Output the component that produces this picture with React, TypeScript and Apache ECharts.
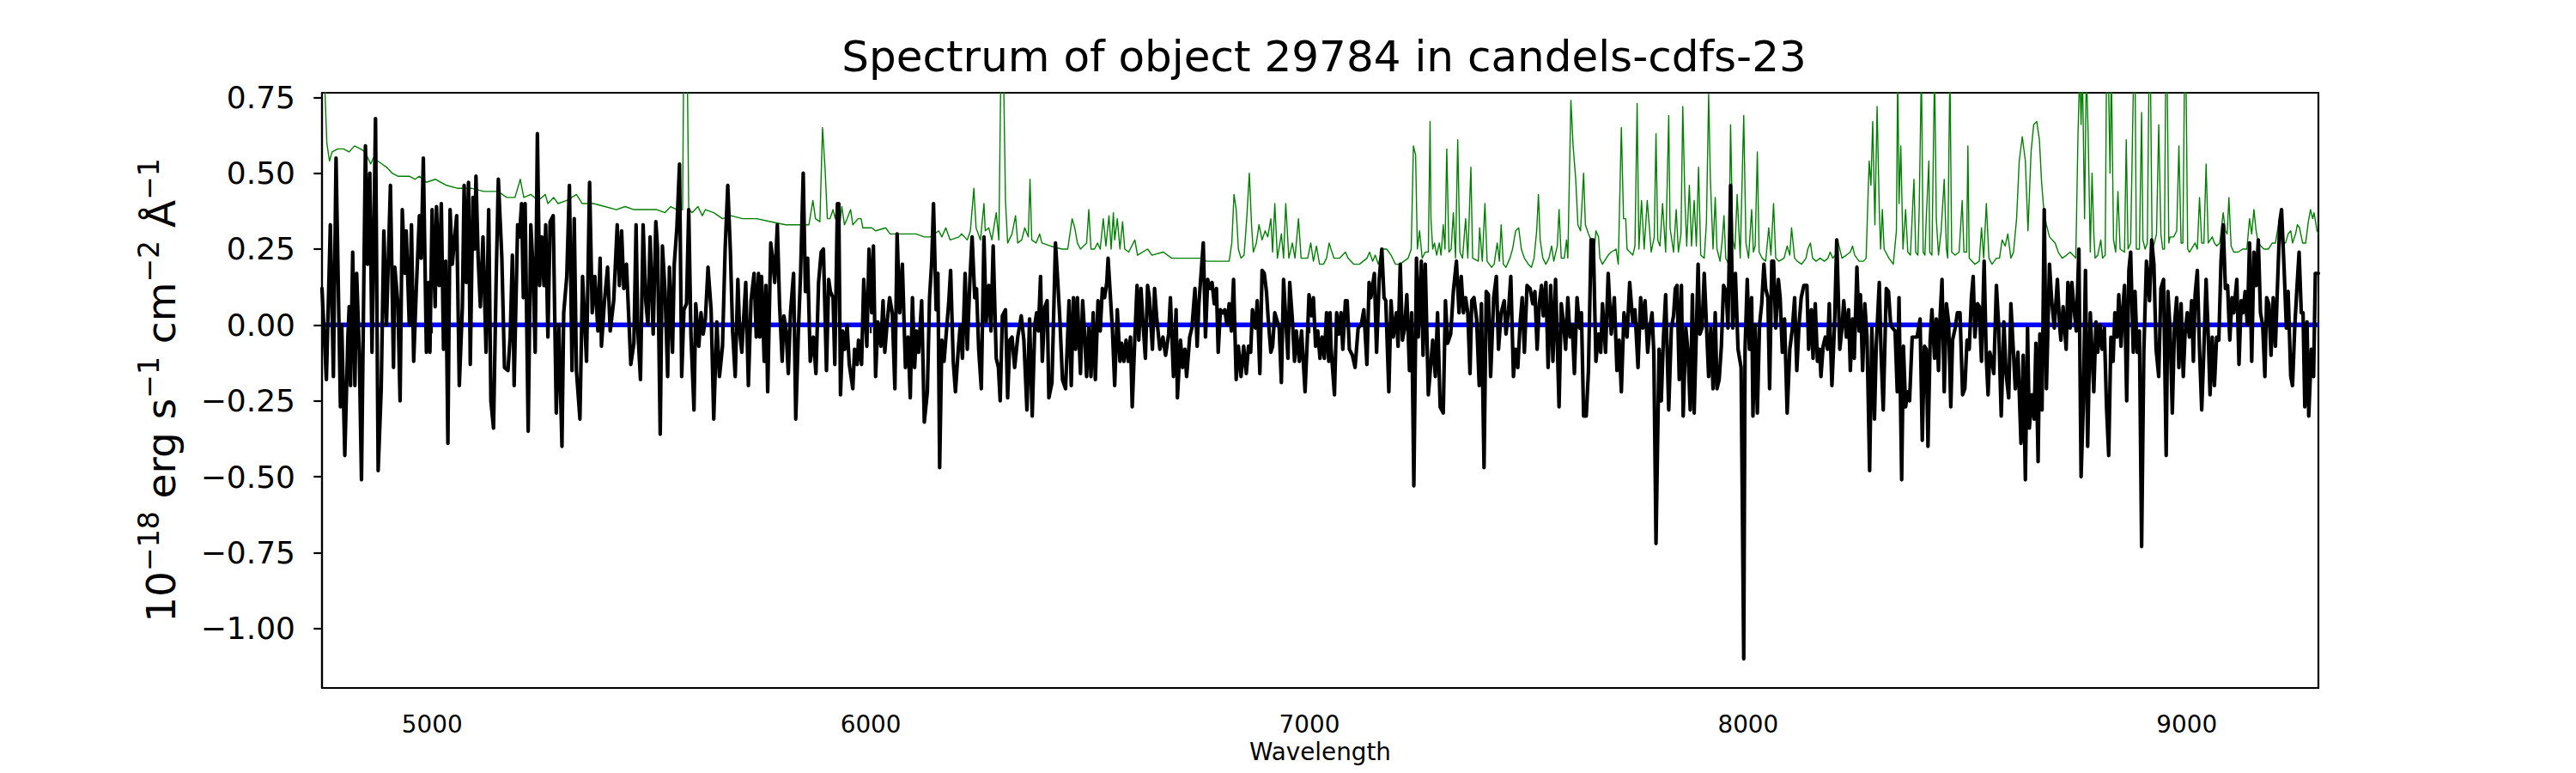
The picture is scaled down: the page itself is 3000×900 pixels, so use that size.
import React, { useEffect, useRef } from "react";
import * as echarts from "echarts";

// ---------- Data ----------
const TITLE = "Spectrum of object 29784 in candels-cdfs-23";
const X_NAME = "Wavelength";
const X_RANGE = [4749, 9300];
const Y_RANGE = [-1.196, 0.765];
const X_TICKS = [5000, 6000, 7000, 8000, 9000];
const Y_TICKS = [-1.0, -0.75, -0.5, -0.25, 0.0, 0.25, 0.5, 0.75];

// observed flux [wavelength (Å), flux (1e-18 erg/s/cm2/Å)]
const FLUX_SPECTRUM: [number, number][] = [
  [4749,0.12],[4759,-0.18],[4768,0.33],[4775,-0.17],[4781,0.55],[4791,-0.27],[4794,0],[4801,-0.43],[4808,-0.04],[4811,0.06],
  [4814,-0.2],[4819,0.24],[4824,-0.2],[4828,0.17],[4834,-0.09],[4839,-0.51],[4848,0.59],[4853,0.2],[4858,0.5],[4863,-0.09],
  [4871,0.68],[4877,-0.48],[4884,-0.21],[4890,0.31],[4896,0],[4905,0.46],[4912,-0.14],[4915,0.19],[4922,0.07],[4927,-0.25],
  [4932,0.38],[4938,0.17],[4941,0.31],[4948,0],[4953,0.33],[4958,-0.12],[4964,0.12],[4971,0.36],[4975,0.22],[4980,0.55],
  [4987,-0.09],[4992,0.14],[4995,-0.09],[5000,0.38],[5007,0.06],[5010,0.39],[5016,0.13],[5021,0.4],[5026,-0.08],[5031,0.21],
  [5036,-0.39],[5041,0.38],[5046,0.2],[5056,0.36],[5062,-0.2],[5069,0.06],[5073,0.46],[5078,0.14],[5083,0.47],[5087,-0.13],
  [5093,0.42],[5097,0.25],[5100,0.49],[5105,0.22],[5110,0.06],[5116,0.29],[5123,-0.09],[5129,0.38],[5134,-0.25],[5140,-0.34],
  [5146,0.15],[5151,0.48],[5159,0.22],[5165,-0.14],[5173,-0.15],[5178,-0.04],[5183,0.23],[5187,-0.2],[5195,0.33],[5199,0.29],
  [5204,0.4],[5208,0.09],[5212,0.4],[5219,-0.35],[5225,0.33],[5230,0.19],[5235,-0.09],[5240,0.63],[5245,0.13],[5250,0.29],
  [5255,0.13],[5259,0.33],[5264,-0.04],[5269,0.34],[5276,0.36],[5283,-0.29],[5289,0],[5296,-0.4],[5300,0.04],[5307,0.16],
  [5313,0.46],[5319,-0.15],[5324,0.35],[5329,-0.15],[5337,-0.31],[5343,0.16],[5352,-0.12],[5359,0.47],[5365,0.04],[5371,0.16],
  [5378,-0.02],[5383,0.22],[5386,-0.07],[5393,0.08],[5400,0.19],[5406,-0.02],[5414,0.08],[5422,0.33],[5427,0.13],[5432,0.31],
  [5437,0.12],[5443,0.2],[5453,-0.13],[5460,-0.06],[5465,0.33],[5469,-0.02],[5475,-0.18],[5481,0.33],[5487,0.08],[5492,0],
  [5497,0.29],[5504,-0.03],[5510,0.34],[5514,0.25],[5520,-0.36],[5525,0.26],[5531,0.11],[5537,-0.17],[5541,0.19],[5548,-0.09],
  [5552,0.2],[5558,0.32],[5564,0.53],[5569,-0.17],[5574,0.05],[5580,0.07],[5585,0.38],[5590,-0.03],[5597,-0.28],[5601,0.07],
  [5608,-0.07],[5613,0.04],[5618,-0.03],[5623,0.02],[5629,0.19],[5636,0.05],[5642,-0.31],[5649,0.01],[5655,-0.17],[5662,-0.07],
  [5668,0.25],[5674,0.46],[5680,0.24],[5685,-0.02],[5691,-0.17],[5697,0.15],[5701,-0.02],[5706,-0.09],[5711,0.04],[5715,0.14],
  [5721,-0.2],[5727,0.08],[5734,0.17],[5739,-0.04],[5744,0.17],[5747,-0.04],[5751,0.16],[5757,-0.12],[5761,0.13],[5765,-0.22],
  [5772,0.27],[5776,0.22],[5781,0.14],[5787,0.33],[5792,0.07],[5798,-0.12],[5802,0.03],[5807,-0.02],[5812,-0.16],[5817,0.04],
  [5824,0.17],[5829,-0.31],[5835,-0.02],[5840,0.17],[5846,0.5],[5851,0.11],[5856,0.22],[5862,-0.12],[5869,-0.04],[5875,-0.16],
  [5881,0.14],[5887,0.24],[5892,0.25],[5899,-0.15],[5904,0.15],[5908,0.11],[5914,0.09],[5918,-0.13],[5924,0.4],[5927,0.4],
  [5931,-0.23],[5936,-0.02],[5941,-0.08],[5946,0],[5951,-0.13],[5959,-0.21],[5963,-0.08],[5969,-0.13],[5972,-0.05],[5979,-0.13],
  [5984,0.15],[5991,-0.07],[5996,0.25],[6002,0.04],[6006,0.26],[6011,-0.17],[6016,0.01],[6023,-0.07],[6028,0.08],[6032,-0.09],
  [6038,0.02],[6043,0.09],[6049,0.04],[6055,-0.21],[6060,0.3],[6066,0.04],[6072,0.2],[6079,-0.14],[6085,-0.04],[6090,-0.24],
  [6095,0.09],[6100,-0.14],[6104,-0.02],[6109,-0.09],[6116,0.08],[6122,-0.32],[6129,-0.22],[6134,0.09],[6139,0.21],[6143,0.4],
  [6149,0.05],[6153,0.17],[6157,-0.47],[6162,-0.05],[6167,-0.12],[6173,-0.01],[6178,0.08],[6182,0.18],[6188,-0.12],[6193,-0.22],
  [6199,-0.09],[6204,0],[6209,-0.11],[6215,0.17],[6220,-0.08],[6226,0.15],[6231,0.29],[6237,0.09],[6241,0.12],[6246,-0.08],
  [6252,-0.21],[6258,0.29],[6263,0.01],[6269,0.13],[6274,-0.02],[6279,0.26],[6286,-0.11],[6291,-0.14],[6295,-0.25],[6300,0.03],
  [6307,0.05],[6312,-0.24],[6317,-0.05],[6322,-0.04],[6328,-0.14],[6335,-0.04],[6343,0.03],[6349,-0.05],[6356,-0.28],[6362,0.02],
  [6368,-0.3],[6374,0],[6378,0.04],[6382,-0.02],[6387,0.16],[6391,-0.12],[6397,0.06],[6402,0.08],[6406,-0.24],[6413,-0.19],
  [6416,-0.02],[6421,0.27],[6426,0.15],[6431,0.02],[6437,-0.18],[6444,-0.21],[6452,0.08],[6457,-0.2],[6462,0.09],[6467,-0.08],
  [6471,0.09],[6478,-0.16],[6483,0.08],[6487,-0.02],[6492,-0.17],[6497,-0.01],[6502,-0.17],[6507,0.04],[6512,-0.18],[6518,0.08],
  [6523,-0.02],[6528,0.12],[6533,0.09],[6538,0.14],[6541,0.22],[6546,0.1],[6551,-0.02],[6556,-0.2],[6562,0.05],[6568,-0.12],
  [6572,-0.06],[6577,-0.12],[6582,-0.05],[6587,-0.12],[6592,-0.04],[6596,-0.27],[6602,-0.04],[6607,0.13],[6611,-0.05],[6616,0.12],
  [6620,0.02],[6626,-0.11],[6631,0.13],[6635,0.09],[6642,-0.08],[6647,0.12],[6652,0.02],[6659,-0.08],[6666,-0.04],[6672,-0.1],
  [6679,-0.03],[6683,0.09],[6690,-0.17],[6696,0.05],[6699,-0.24],[6706,-0.05],[6711,-0.14],[6716,-0.08],[6720,-0.17],[6727,-0.04],
  [6732,-0.01],[6739,0.12],[6744,-0.07],[6748,0.07],[6753,0.17],[6758,0.27],[6763,-0.04],[6768,0.15],[6773,0.12],[6778,0.14],
  [6783,0.07],[6788,0.12],[6792,-0.09],[6797,0.05],[6802,0.04],[6807,0.05],[6812,0],[6817,0.07],[6822,-0.02],[6827,0.15],
  [6833,-0.18],[6838,-0.07],[6844,-0.17],[6850,-0.07],[6856,-0.16],[6861,-0.07],[6866,-0.09],[6870,0.05],[6877,-0.01],[6881,0.08],
  [6887,-0.16],[6892,0.18],[6897,0.17],[6902,0.11],[6906,0.02],[6912,-0.09],[6916,-0.07],[6921,0.04],[6927,0.01],[6931,-0.01],
  [6936,-0.19],[6941,0.15],[6946,0.02],[6951,-0.11],[6955,0.14],[6961,0.02],[6966,-0.12],[6970,-0.02],[6977,-0.12],[6982,-0.02],
  [6990,-0.22],[6995,-0.05],[6999,0.1],[7005,0.03],[7009,0.09],[7014,-0.07],[7019,-0.02],[7024,-0.11],[7029,-0.04],[7034,-0.11],
  [7039,0.04],[7044,-0.12],[7047,0.04],[7049,-0.07],[7057,-0.23],[7062,0.04],[7067,-0.03],[7072,0.04],[7076,-0.08],[7082,0.08],
  [7086,0.08],[7091,-0.08],[7098,-0.1],[7104,-0.14],[7111,-0.01],[7118,0],[7124,0.05],[7131,-0.13],[7136,0.14],[7140,0.09],
  [7148,0.17],[7153,-0.09],[7159,0.15],[7165,0.25],[7170,0.09],[7174,0.08],[7181,-0.22],[7186,0.08],[7191,-0.04],[7198,0.04],
  [7202,-0.07],[7207,0.2],[7212,-0.05],[7217,-0.01],[7222,0.1],[7228,-0.15],[7233,0.04],[7238,-0.53],[7244,0.22],[7248,-0.04],
  [7255,0.21],[7259,-0.1],[7264,0.2],[7271,-0.23],[7276,-0.14],[7281,-0.05],[7287,-0.17],[7292,0.04],[7298,-0.27],[7305,-0.29],
  [7310,0.08],[7315,-0.06],[7322,-0.03],[7328,0.11],[7335,0.21],[7341,0.04],[7346,0.16],[7351,0.04],[7356,0.09],[7361,0.04],
  [7366,-0.16],[7370,0.08],[7375,0.09],[7381,0.02],[7387,-0.2],[7392,0.07],[7398,-0.47],[7403,0.11],[7408,0.1],[7413,-0.17],
  [7420,0.09],[7426,0.16],[7431,-0.08],[7437,0.04],[7444,0.08],[7448,-0.03],[7454,0.05],[7459,0.16],[7465,-0.17],[7470,-0.08],
  [7475,-0.14],[7480,0],[7485,0.09],[7490,-0.09],[7496,0.13],[7503,0.12],[7509,0.07],[7514,0.11],[7519,-0.08],[7524,0.07],
  [7529,0.13],[7533,0.03],[7539,0.14],[7544,-0.14],[7550,0.13],[7555,-0.12],[7561,0.15],[7569,-0.27],[7574,0.07],[7579,0.01],
  [7584,-0.08],[7589,0.09],[7594,-0.04],[7599,0],[7604,-0.16],[7610,0.09],[7616,-0.01],[7620,0.04],[7625,-0.3],[7631,-0.3],
  [7636,-0.15],[7642,0.28],[7647,0.28],[7653,-0.12],[7659,-0.03],[7664,-0.09],[7668,0.07],[7675,-0.09],[7681,0.17],[7688,-0.03],
  [7695,0.09],[7701,-0.15],[7706,-0.05],[7711,-0.22],[7717,0.04],[7724,-0.04],[7730,0.14],[7737,0.01],[7742,0.05],[7749,-0.14],
  [7755,0.09],[7760,-0.01],[7765,0.08],[7771,-0.09],[7776,-0.01],[7781,0.04],[7785,-0.09],[7790,-0.72],[7797,-0.08],[7802,-0.25],
  [7807,-0.04],[7812,0.1],[7819,-0.28],[7825,-0.01],[7830,0.03],[7834,0.12],[7838,0.13],[7843,-0.18],[7848,0.13],[7852,-0.3],
  [7858,-0.01],[7863,-0.09],[7868,-0.28],[7873,0.1],[7877,-0.29],[7882,-0.02],[7886,0.2],[7890,-0.03],[7895,-0.01],[7900,0.17],
  [7905,0],[7910,-0.17],[7915,-0.01],[7920,-0.21],[7925,0.04],[7929,-0.21],[7934,-0.18],[7939,-0.07],[7944,0.13],[7950,0.11],
  [7954,-0.01],[7960,0.46],[7965,-0.01],[7971,0.17],[7977,-0.08],[7984,-0.14],[7990,-1.1],[7993,-0.08],[7998,0.15],[8003,-0.08],
  [8008,0.09],[8011,-0.3],[8016,0],[8021,-0.29],[8026,0],[8031,0.07],[8036,0.2],[8040,0.12],[8045,0.09],[8049,-0.21],
  [8054,0.21],[8058,0.21],[8063,-0.01],[8069,0.15],[8073,0.09],[8078,-0.09],[8083,0.02],[8089,-0.29],[8095,-0.08],[8101,-0.01],
  [8106,0.09],[8111,-0.15],[8116,0],[8121,0.09],[8127,0.13],[8134,0.13],[8138,-0.08],[8144,0.05],[8148,-0.11],[8153,0.07],
  [8158,-0.12],[8163,-0.08],[8166,-0.17],[8171,-0.07],[8176,-0.04],[8181,-0.08],[8185,0.07],[8191,-0.2],[8197,0],[8202,0.28],
  [8209,-0.08],[8214,-0.01],[8218,0.08],[8224,-0.04],[8229,0.05],[8233,-0.15],[8238,0.02],[8242,-0.11],[8248,0.19],[8253,-0.02],
  [8256,0.1],[8261,-0.15],[8266,0.07],[8271,-0.04],[8277,-0.48],[8282,-0.01],[8288,-0.31],[8292,-0.07],[8299,0.14],[8303,-0.09],
  [8308,-0.28],[8315,0.12],[8320,0.11],[8325,0],[8329,-0.01],[8335,-0.02],[8340,-0.22],[8344,0.09],[8350,-0.51],[8354,-0.07],
  [8359,-0.27],[8364,-0.22],[8368,-0.25],[8374,-0.04],[8380,-0.04],[8385,-0.04],[8392,0.02],[8397,-0.38],[8402,-0.07],[8406,-0.08],
  [8410,-0.4],[8415,-0.05],[8419,0.05],[8425,-0.11],[8429,0.02],[8434,-0.15],[8438,0.04],[8442,0.15],[8447,-0.22],[8452,0.07],
  [8457,0.01],[8462,-0.27],[8466,-0.05],[8472,-0.01],[8477,0.04],[8483,0.04],[8489,-0.23],[8494,-0.21],[8499,-0.05],[8504,-0.08],
  [8509,0.09],[8513,0.16],[8517,-0.04],[8523,0.07],[8527,0.06],[8532,-0.12],[8538,0.21],[8543,-0.11],[8547,-0.23],[8551,-0.09],
  [8556,-0.12],[8560,-0.16],[8566,0.13],[8571,0],[8577,-0.3],[8583,0.01],[8588,-0.16],[8594,-0.24],[8599,0.07],[8603,-0.04],
  [8609,-0.21],[8615,-0.09],[8622,-0.39],[8627,-0.1],[8632,-0.51],[8637,-0.01],[8641,-0.34],[8647,-0.23],[8652,-0.31],[8656,-0.06],
  [8661,-0.45],[8665,-0.03],[8670,-0.28],[8675,0.38],[8680,-0.21],[8687,0.2],[8692,0.08],[8698,-0.01],[8705,0.15],[8710,0],
  [8713,-0.05],[8718,0.06],[8725,-0.08],[8729,0.14],[8734,-0.01],[8738,0.14],[8742,0.07],[8748,-0.02],[8754,0.25],[8759,-0.5],
  [8764,-0.27],[8769,0.18],[8774,-0.4],[8780,0.04],[8788,-0.22],[8793,0.01],[8797,-0.09],[8802,0],[8807,-0.08],[8812,-0.01],
  [8817,-0.27],[8822,-0.43],[8827,-0.04],[8832,-0.12],[8836,0.04],[8841,-0.04],[8845,0.1],[8850,-0.07],[8854,0.05],[8858,0.13],
  [8863,-0.25],[8868,0.18],[8872,0.24],[8878,-0.09],[8882,0.11],[8887,-0.09],[8892,-0.02],[8897,-0.73],[8902,-0.09],[8908,0.21],
  [8915,0.08],[8920,0.28],[8925,0.2],[8930,-0.08],[8936,-0.17],[8941,0.12],[8947,0.15],[8953,-0.43],[8957,0.11],[8962,-0.02],
  [8967,-0.29],[8972,0],[8977,0.09],[8982,-0.14],[8987,0.07],[8992,-0.17],[8996,-0.03],[9001,0.04],[9006,-0.04],[9011,0.08],
  [9015,-0.12],[9019,0.1],[9024,0.18],[9029,-0.08],[9034,-0.28],[9039,-0.08],[9044,0.15],[9049,-0.04],[9053,-0.23],[9058,-0.04],
  [9063,-0.2],[9068,-0.04],[9073,-0.05],[9078,0.21],[9083,0.33],[9088,0.12],[9093,0.13],[9098,-0.05],[9103,0.09],[9107,0.04],
  [9114,0.15],[9119,-0.13],[9124,0.08],[9128,0.04],[9133,0.11],[9138,0],[9143,0.27],[9148,-0.12],[9153,0.24],[9158,0.13],
  [9163,0.28],[9168,0.04],[9173,0],[9178,-0.17],[9182,0.09],[9187,0.07],[9192,-0.1],[9197,0.09],[9202,-0.07],[9207,0.14],
  [9212,0.34],[9216,0.38],[9222,0.18],[9227,-0.01],[9231,0.11],[9237,-0.17],[9241,-0.2],[9246,-0.01],[9251,0.12],[9256,0.24],
  [9261,0.04],[9265,0.04],[9269,-0.27],[9274,0.01],[9278,-0.3],[9284,-0.08],[9289,-0.17],[9293,0.17],[9300,0.17],
];

// noise / error spectrum [wavelength (Å), sigma]
const NOISE_SPECTRUM: [number, number][] = [
  [4749,0.95],[4755,0.8],[4760,0.6],[4766,0.54],[4772,0.57],[4785,0.58],[4798,0.58],[4811,0.57],[4823,0.59],[4837,0.58],
  [4847,0.57],[4860,0.53],[4866,0.55],[4876,0.54],[4886,0.53],[4896,0.52],[4909,0.5],[4922,0.49],[4935,0.49],[4948,0.49],
  [4961,0.48],[4971,0.49],[4987,0.47],[5007,0.48],[5033,0.46],[5059,0.45],[5091,0.45],[5118,0.44],[5150,0.44],[5170,0.42],
  [5189,0.42],[5201,0.48],[5209,0.42],[5225,0.43],[5242,0.41],[5258,0.43],[5264,0.4],[5277,0.42],[5287,0.4],[5307,0.41],
  [5329,0.43],[5342,0.4],[5368,0.4],[5394,0.39],[5420,0.38],[5440,0.39],[5460,0.38],[5486,0.38],[5512,0.38],[5531,0.37],
  [5544,0.39],[5558,0.38],[5571,0.38],[5574,0.95],[5581,0.95],[5585,0.38],[5593,0.37],[5606,0.39],[5616,0.36],[5623,0.38],
  [5642,0.37],[5662,0.35],[5681,0.36],[5708,0.35],[5740,0.35],[5773,0.34],[5806,0.33],[5838,0.33],[5859,0.33],[5868,0.41],
  [5874,0.35],[5884,0.34],[5890,0.65],[5896,0.51],[5901,0.35],[5907,0.35],[5914,0.38],[5919,0.35],[5923,0.4],[5930,0.34],
  [5934,0.39],[5940,0.33],[5946,0.35],[5954,0.38],[5959,0.33],[5971,0.35],[5978,0.35],[5982,0.32],[6002,0.32],[6011,0.31],
  [6034,0.32],[6044,0.3],[6083,0.3],[6103,0.3],[6122,0.29],[6135,0.29],[6155,0.31],[6162,0.29],[6171,0.32],[6181,0.28],
  [6201,0.29],[6207,0.3],[6220,0.28],[6227,0.31],[6235,0.45],[6240,0.32],[6250,0.28],[6258,0.4],[6261,0.31],[6269,0.32],
  [6276,0.28],[6286,0.37],[6292,0.28],[6297,0.9],[6302,0.9],[6307,0.41],[6312,0.27],[6322,0.3],[6330,0.36],[6335,0.27],
  [6344,0.28],[6351,0.32],[6359,0.29],[6363,0.48],[6367,0.28],[6377,0.27],[6385,0.3],[6390,0.27],[6410,0.26],[6436,0.25],
  [6449,0.25],[6459,0.35],[6465,0.32],[6471,0.27],[6478,0.25],[6492,0.27],[6497,0.38],[6502,0.25],[6510,0.25],[6517,0.27],
  [6523,0.25],[6530,0.35],[6536,0.26],[6543,0.36],[6548,0.25],[6553,0.37],[6556,0.28],[6562,0.35],[6568,0.25],[6574,0.34],
  [6579,0.25],[6588,0.24],[6602,0.28],[6608,0.23],[6631,0.25],[6641,0.23],[6667,0.24],[6686,0.22],[6719,0.22],[6752,0.22],
  [6765,0.21],[6797,0.21],[6817,0.21],[6823,0.27],[6828,0.43],[6833,0.38],[6838,0.25],[6844,0.22],[6851,0.23],[6857,0.35],
  [6863,0.5],[6868,0.33],[6872,0.24],[6879,0.27],[6885,0.33],[6892,0.28],[6899,0.31],[6905,0.29],[6912,0.35],[6916,0.24],
  [6921,0.4],[6927,0.22],[6936,0.3],[6941,0.22],[6946,0.4],[6953,0.22],[6961,0.27],[6967,0.22],[6975,0.35],[6981,0.22],
  [6996,0.22],[7003,0.27],[7009,0.21],[7016,0.26],[7023,0.2],[7032,0.2],[7039,0.22],[7045,0.27],[7049,0.25],[7056,0.22],
  [7069,0.22],[7082,0.24],[7088,0.22],[7101,0.2],[7114,0.2],[7131,0.22],[7137,0.24],[7144,0.21],[7150,0.23],[7157,0.2],
  [7166,0.25],[7176,0.25],[7186,0.23],[7196,0.2],[7206,0.2],[7225,0.22],[7232,0.25],[7237,0.59],[7242,0.56],[7246,0.25],
  [7251,0.31],[7257,0.22],[7264,0.24],[7271,0.24],[7275,0.67],[7277,0.35],[7281,0.25],[7285,0.27],[7290,0.23],[7296,0.27],
  [7300,0.23],[7305,0.33],[7309,0.25],[7313,0.58],[7318,0.24],[7323,0.25],[7328,0.37],[7333,0.22],[7338,0.61],[7343,0.24],
  [7349,0.22],[7356,0.35],[7361,0.22],[7368,0.52],[7372,0.22],[7385,0.21],[7388,0.32],[7394,0.21],[7400,0.4],[7405,0.21],
  [7415,0.19],[7421,0.2],[7428,0.27],[7433,0.21],[7437,0.33],[7442,0.2],[7448,0.19],[7457,0.22],[7463,0.25],[7470,0.31],
  [7477,0.32],[7483,0.25],[7490,0.22],[7499,0.2],[7506,0.19],[7512,0.22],[7518,0.31],[7522,0.43],[7526,0.28],[7532,0.22],
  [7539,0.2],[7546,0.22],[7552,0.26],[7557,0.21],[7565,0.26],[7569,0.38],[7574,0.22],[7581,0.22],[7586,0.28],[7589,0.22],
  [7596,0.74],[7601,0.59],[7607,0.48],[7612,0.33],[7618,0.31],[7625,0.5],[7629,0.33],[7636,0.3],[7642,0.28],[7649,0.24],
  [7653,0.31],[7659,0.29],[7662,0.22],[7668,0.2],[7681,0.23],[7688,0.24],[7699,0.25],[7704,0.2],[7711,0.65],[7716,0.35],
  [7721,0.35],[7724,0.25],[7737,0.23],[7742,0.26],[7747,0.73],[7751,0.25],[7757,0.41],[7763,0.25],[7770,0.41],[7775,0.32],
  [7779,0.24],[7786,0.29],[7790,0.63],[7794,0.28],[7799,0.26],[7805,0.4],[7812,0.24],[7819,0.69],[7822,0.32],[7830,0.24],
  [7836,0.38],[7841,0.24],[7847,0.3],[7851,0.72],[7856,0.41],[7860,0.26],[7866,0.46],[7871,0.26],[7877,0.41],[7882,0.26],
  [7887,0.52],[7892,0.23],[7900,0.22],[7905,0.34],[7910,0.76],[7914,0.48],[7920,0.25],[7925,0.42],[7929,0.25],[7936,0.21],
  [7941,0.28],[7945,0.36],[7949,0.22],[7956,0.2],[7960,0.66],[7965,0.28],[7970,0.25],[7975,0.43],[7982,0.22],[7990,0.69],
  [7995,0.27],[8001,0.22],[8008,0.38],[8012,0.24],[8016,0.26],[8021,0.57],[8025,0.24],[8032,0.22],[8040,0.21],[8047,0.32],
  [8052,0.23],[8058,0.4],[8063,0.22],[8070,0.21],[8082,0.22],[8089,0.26],[8095,0.23],[8099,0.32],[8106,0.22],[8112,0.21],
  [8122,0.2],[8132,0.22],[8136,0.25],[8142,0.27],[8147,0.22],[8155,0.21],[8164,0.22],[8174,0.21],[8182,0.22],[8187,0.24],
  [8193,0.22],[8199,0.23],[8204,0.28],[8214,0.22],[8224,0.23],[8233,0.24],[8238,0.26],[8243,0.23],[8253,0.21],[8263,0.21],
  [8269,0.22],[8273,0.41],[8276,0.54],[8280,0.46],[8284,0.67],[8289,0.33],[8294,0.72],[8299,0.38],[8302,0.25],[8306,0.38],
  [8310,0.25],[8321,0.22],[8331,0.2],[8338,0.31],[8341,0.85],[8344,0.4],[8348,0.59],[8353,0.25],[8359,0.38],[8364,0.24],
  [8370,0.23],[8378,0.48],[8382,0.24],[8387,0.23],[8390,0.38],[8395,0.85],[8399,0.24],[8403,0.23],[8406,0.35],[8412,0.54],
  [8414,0.24],[8419,0.23],[8425,0.85],[8429,0.35],[8434,0.23],[8440,0.31],[8447,0.48],[8452,0.25],[8455,0.22],[8460,0.85],
  [8464,0.24],[8472,0.23],[8481,0.24],[8488,0.41],[8492,0.24],[8498,0.24],[8501,0.59],[8504,0.22],[8517,0.2],[8527,0.21],
  [8532,0.32],[8537,0.22],[8543,0.4],[8549,0.22],[8556,0.2],[8566,0.22],[8573,0.22],[8579,0.28],[8586,0.26],[8592,0.3],
  [8599,0.22],[8605,0.24],[8612,0.35],[8618,0.54],[8625,0.62],[8632,0.54],[8638,0.31],[8645,0.57],[8651,0.66],[8658,0.67],
  [8664,0.61],[8669,0.47],[8674,0.38],[8680,0.33],[8687,0.29],[8700,0.27],[8707,0.24],[8716,0.22],[8726,0.23],[8734,0.24],
  [8747,0.22],[8752,0.63],[8756,0.85],[8759,0.66],[8762,0.85],[8767,0.35],[8771,0.85],[8775,0.64],[8780,0.24],[8784,0.5],
  [8788,0.3],[8791,0.22],[8797,0.23],[8804,0.28],[8808,0.22],[8814,0.23],[8817,0.85],[8821,0.85],[8825,0.5],[8828,0.85],
  [8833,0.28],[8838,0.24],[8843,0.44],[8848,0.25],[8858,0.24],[8862,0.61],[8866,0.25],[8872,0.27],[8879,0.85],[8882,0.85],
  [8885,0.25],[8892,0.25],[8897,0.7],[8900,0.28],[8905,0.25],[8910,0.27],[8914,0.85],[8917,0.85],[8921,0.25],[8926,0.27],
  [8931,0.3],[8936,0.66],[8941,0.3],[8945,0.25],[8949,0.25],[8952,0.85],[8955,0.85],[8959,0.27],[8962,0.29],[8970,0.29],
  [8977,0.31],[8982,0.59],[8987,0.27],[8991,0.27],[8995,0.85],[8998,0.85],[9002,0.25],[9006,0.24],[9019,0.27],[9024,0.25],
  [9029,0.42],[9034,0.27],[9039,0.27],[9044,0.53],[9049,0.27],[9058,0.29],[9063,0.27],[9068,0.26],[9075,0.27],[9083,0.37],
  [9088,0.31],[9092,0.3],[9096,0.42],[9101,0.26],[9107,0.24],[9117,0.24],[9127,0.25],[9137,0.25],[9143,0.35],[9148,0.3],
  [9153,0.38],[9158,0.31],[9163,0.27],[9169,0.26],[9176,0.25],[9186,0.25],[9195,0.27],[9202,0.27],[9209,0.33],[9213,0.35],
  [9218,0.27],[9225,0.27],[9231,0.3],[9237,0.31],[9241,0.27],[9248,0.3],[9252,0.33],[9257,0.32],[9264,0.27],[9271,0.27],
  [9277,0.34],[9282,0.38],[9287,0.35],[9290,0.37],[9297,0.31],[9300,0.3],
];

// zero level reference line
const ZERO_LEVEL: [number, number][] = [[4749, 0], [9300, 0]];

const FONT = "DejaVu Sans";

function fmtY(v: number): string {
  const s = Math.abs(v).toFixed(2);
  return v < -1e-9 ? "\u2212" + s : s;
}

function fmtX(v: number): string {
  return String(Math.round(v));
}

export default function App() {
  const ref = useRef<HTMLDivElement>(null);

  useEffect(() => {
    if (!ref.current) return;
    const chart = echarts.init(ref.current, null, { renderer: "svg" });
    const option: any = {
      animation: false,
      backgroundColor: "#ffffff",
      title: {
        text: TITLE,
        left: 1537,
        top: 36,
        textAlign: "center",
        textStyle: { fontFamily: FONT, fontSize: 50, fontWeight: "normal", color: "#000" },
      },
      grid: {
        left: 375,
        right: 300,
        top: 108,
        bottom: 99,
        show: true,
        borderColor: "#000",
        borderWidth: 2.2,
        backgroundColor: "transparent",
        outerBoundsMode: "none",
        containLabel: false,
      },
      xAxis: {
        type: "value",
        min: X_RANGE[0],
        max: X_RANGE[1],
        name: X_NAME,
        nameLocation: "middle",
        nameGap: 59,
        nameTextStyle: { fontFamily: FONT, fontSize: 27.8, color: "#000" },
        axisLine: { show: true, lineStyle: { color: "#000", width: 2.2 } },
        axisTick: { show: true, customValues: X_TICKS, length: 9.7, lineStyle: { color: "#000", width: 2.2 } },
        axisLabel: {
          customValues: X_TICKS,
          fontFamily: FONT,
          fontSize: 27.8,
          color: "#000",
          margin: 28,
          formatter: (v: number) => fmtX(v),
        },
        splitLine: { show: false },
      },
      yAxis: {
        type: "value",
        min: Y_RANGE[0],
        max: Y_RANGE[1],
        name: "{b|10}{s|\u221218}{b| erg s}{s|\u22121}{b| cm}{s|\u22122}{b| \u00C5}{s|\u22121}",
        nameLocation: "middle",
        nameRotate: 90,
        nameGap: 164,
        nameTextStyle: {
          fontFamily: FONT,
          fontSize: 47,
          color: "#000",
          rich: {
            b: { fontFamily: FONT, fontSize: 47, color: "#000", verticalAlign: "bottom" },
            s: { fontFamily: FONT, fontSize: 33, color: "#000", verticalAlign: "bottom", padding: [0, 0, 21, 0] },
          },
        },
        axisLine: { show: true, lineStyle: { color: "#000", width: 2.2 } },
        axisTick: { show: true, customValues: Y_TICKS, length: 9.7, lineStyle: { color: "#000", width: 2.2 } },
        axisLabel: {
          customValues: Y_TICKS,
          fontFamily: FONT,
          fontSize: 36,
          color: "#000",
          margin: 31,
          formatter: (v: number) => fmtY(v),
        },
        splitLine: { show: false },
      },
      series: [
        {
          name: "zero",
          type: "line",
          data: ZERO_LEVEL,
          showSymbol: false,
          lineStyle: { color: "#0000ff", width: 5.5 },
          silent: true,
          z: 1,
        },
        {
          name: "noise",
          type: "line",
          data: NOISE_SPECTRUM,
          showSymbol: false,
          clip: true,
          lineStyle: { color: "#008000", width: 1.4, join: "round" },
          silent: true,
          z: 2,
        },
        {
          name: "flux",
          type: "line",
          data: FLUX_SPECTRUM,
          showSymbol: false,
          clip: true,
          lineStyle: { color: "#000000", width: 4.2, join: "round", cap: "round" },
          silent: true,
          z: 3,
        },
      ],
    };
    chart.setOption(option);
    return () => chart.dispose();
  }, []);

  return (
    <div
      ref={ref}
      style={{ position: "fixed", left: 0, top: 0, width: 3000, height: 900, background: "#fff" }}
    />
  );
}
